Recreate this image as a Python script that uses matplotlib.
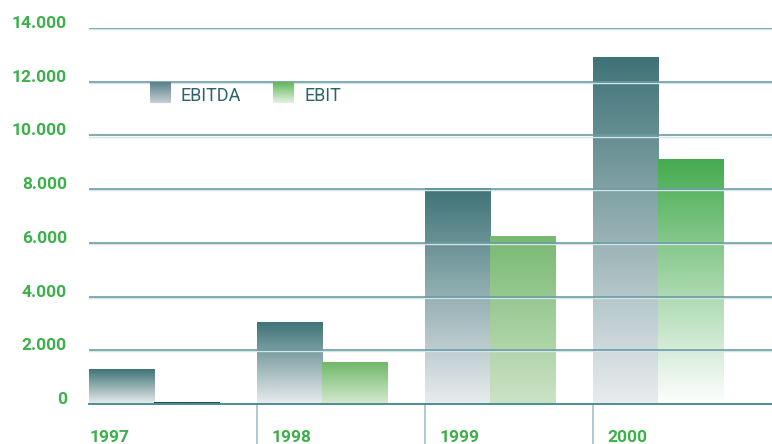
import numpy as np
import matplotlib
matplotlib.use("Agg")
from matplotlib import pyplot as plt
from matplotlib.colors import LinearSegmentedColormap

years = ["1997", "1998", "1999", "2000"]
ebitda = [1270, 3050, 8040, 12920]
ebit = [40, 1560, 6250, 9120]
yticks = [0, 2000, 4000, 6000, 8000, 10000, 12000, 14000]
ytick_labels = ["0", "2.000", "4.000", "6.000", "8.000", "10.000", "12.000", "14.000"]

plt.rcParams['font.family'] = ['Roboto', 'DejaVu Sans']
green = "#3cb04a"
teal_text = "#2e6168"

# colour ramps for each bar, top -> bottom
ebitda_cols = [("#3f7377", "#e9ecee")] * 4
ebit_cols = [("#1d4f55", "#1d4f55"), ("#6fb869", "#d6eacf"),
             ("#78b971", "#cce3c6"), ("#45ab4f", "#ffffff")]

fig = plt.figure(figsize=(7.72, 4.44), dpi=100)
ax = fig.add_axes([89 / 772, 1 - 404 / 444, 1 - 89 / 772, (404 - 28) / 444])

bw = 0.387
grad = np.linspace(1, 0, 256).reshape(-1, 1)


def gbar(x0, h, top, bottom):
    cmap = LinearSegmentedColormap.from_list("g", [bottom, top])
    ax.imshow(grad, extent=(x0, x0 + bw, 0, h), aspect="auto", cmap=cmap,
              vmin=0, vmax=1, zorder=2, interpolation="bilinear")


x = np.arange(len(years))
for i in range(len(years)):
    gbar(x[i], ebitda[i], *ebitda_cols[i])
    gbar(x[i] + bw, ebit[i], *ebit_cols[i])

ax.set_xlim(0, (772 - 89) / 168)
ax.set_ylim(0, 14000)

# gridlines on top of bars, with a faint shadow beneath
for t in yticks[1:]:
    ax.axhline(t, color="#6a9ea5", lw=1.2, zorder=4)
    ax.axhline(t - 40, color="#d4e4e7", lw=1.0, zorder=3)
ax.axhline(0, color="#4a8f96", lw=1.4, zorder=5, clip_on=False)

# separators between years and year labels
for i in range(len(years)):
    if i > 0:
        ax.plot([x[i], x[i]], [0, -1500], color="#a9c4cb", lw=1.3,
                clip_on=False, zorder=1)
    off = 0.006 if i == 0 else 0.085
    ax.text(x[i] + off, -1415, years[i], color=green, fontsize=12.5,
            fontweight="bold", va="baseline", ha="left")

ax.set_yticks(yticks)
ax.set_yticklabels(ytick_labels)
for lab in ax.get_yticklabels():
    lab.set_va("baseline")
    lab.set_color(green)
    lab.set_fontweight("bold")
    lab.set_fontsize(12.5)
ax.tick_params(axis="y", length=0, pad=16)
ax.set_xticks([])
for s in ax.spines.values():
    s.set_visible(False)

# legend
def swatch(px, top, bottom):
    cmap = LinearSegmentedColormap.from_list("s", [bottom, top])
    lax = fig.add_axes([px / 772, 1 - 103 / 444, 21 / 772, 21 / 444])
    lax.imshow(grad, aspect="auto", cmap=cmap, vmin=0, vmax=1,
               interpolation="bilinear")
    lax.axis("off")

swatch(150, "#58808a", "#c7d0d4")
swatch(273, "#5fb65c", "#e6f2e2")
fig.text(181 / 772, 1 - 96 / 444, "EBITDA", color=teal_text, fontsize=13,
         va="center", ha="left")
fig.text(304 / 772, 1 - 96 / 444, "EBIT", color=teal_text, fontsize=13,
         va="center", ha="left")

plt.savefig("out.png", dpi=100)
